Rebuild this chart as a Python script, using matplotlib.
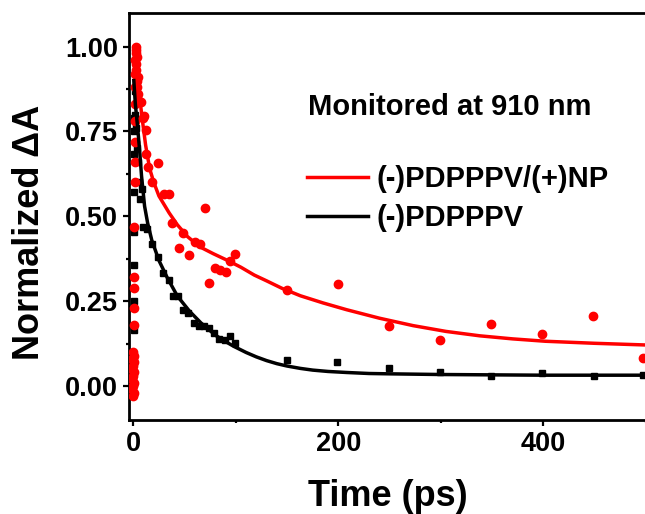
import numpy as np
import matplotlib
matplotlib.use('Agg')
from matplotlib import pyplot as plt
from matplotlib.ticker import MultipleLocator

plt.rcParams['font.family'] = ['Liberation Sans', 'DejaVu Sans']
plt.rcParams['font.weight'] = 'bold'

# (-)PDPPPV/(+)NP : measured points (red circles)
red_t = [-1.5, -1.2, -1.0, -0.8, -0.6, -0.4, -0.2, 0.0, 0.1, 0.2, 0.3, 0.4, 0.5, 0.6,
         0.7, 0.8, 0.9, 1.0, 1.1, 1.2, 1.3, 1.4, 1.5, 1.6, 1.7,
         1.8, 2.0, 2.2, 2.4, 2.6, 2.8, 3.0, 3.3, 3.6, 4.0, 4.5, 5.0, 6.0,
         7.3, 9.0, 10.9, 12.0, 12.5, 14.0, 18.7, 24.5, 30.0, 35.0,
         38.0, 44.5, 48.8, 54.0, 60.0, 64.6, 69.8, 73.7, 80.0, 85.0, 90.0, 94.8, 99.6,
         150, 199.4, 249.3, 299, 349, 399, 448.8, 497.4]
red_y = [0.05, 0.02, -0.01, 0.08, 0.03, -0.03, 0.06, 0.10, 0.00, 0.04, -0.02, 0.09, 0.07, 0.01,
         0.18, 0.23, 0.29, 0.32, 0.47, 0.60, 0.66, 0.72, 0.78, 0.83, 0.88,
         0.92, 0.96, 0.99, 1.00, 0.98, 0.95, 0.93, 0.90, 0.97, 0.88, 0.91, 0.86, 0.84,
         0.836, 0.79, 0.797, 0.753, 0.685, 0.645, 0.60, 0.657, 0.567, 0.567,
         0.481, 0.406, 0.452, 0.386, 0.423, 0.418, 0.526, 0.303, 0.347, 0.342, 0.337, 0.367, 0.389,
         0.284, 0.300, 0.178, 0.137, 0.183, 0.154, 0.205, 0.083]

# (-)PDPPPV : measured points (black squares)
blk_t = [-1.0, -0.5, 0.0, 0.3, 0.5, 0.6, 0.7, 0.8, 0.9, 1.0, 1.1, 1.2, 1.4,
         2.0, 3.0, 4.0, 5.0, 6.0, 7.0, 8.0, 9.0,
         13.8, 18.6, 24.1, 29.3, 34.8, 39.0, 43.9, 48.8, 53.6, 59.1, 64.0, 68.8, 73.7,
         79.2, 84.0, 89.0, 94.0, 99.0,
         150, 199, 249, 299, 349, 399, 449, 497]
blk_y = [0.00, 0.01, 0.02, 0.166, 0.25, 0.357, 0.455, 0.572, 0.685, 0.75, 0.79, 0.87, 0.80,
         0.78, 0.76, 0.70, 0.66, 0.60, 0.55, 0.58, 0.47,
         0.462, 0.418, 0.380, 0.333, 0.311, 0.264, 0.264, 0.225, 0.215, 0.186, 0.178, 0.178, 0.172,
         0.157, 0.139, 0.137, 0.147, 0.127,
         0.076, 0.070, 0.054, 0.041, 0.029, 0.039, 0.029, 0.034]

# fitted decay curves
red_fit_t = [1, 3, 5, 7, 9, 12, 16, 20, 25, 29, 35, 43, 53, 65, 78, 92, 105, 118, 130, 145,
             163, 185, 208, 240, 273, 305, 338, 370, 402, 450, 500]
red_fit_y = [1.0, 0.95, 0.89, 0.83, 0.78, 0.71, 0.64, 0.60, 0.56, 0.54, 0.51, 0.475, 0.44,
             0.41, 0.39, 0.37, 0.35, 0.327, 0.31, 0.288, 0.266, 0.245, 0.225, 0.20, 0.178, 0.161,
             0.148, 0.139, 0.132, 0.126, 0.121]
blk_fit_t = [0.5, 2, 4, 6, 8, 11, 14, 18, 25, 33, 43, 55, 66, 80, 90, 98, 110, 120, 130, 140,
             150, 163, 175, 190, 208, 230, 250, 275, 300, 350, 400, 450, 500]
blk_fit_y = [0.90, 0.83, 0.77, 0.70, 0.62, 0.53, 0.48, 0.43, 0.37, 0.32, 0.265, 0.22, 0.186,
             0.15, 0.131, 0.117, 0.099, 0.086, 0.075, 0.066, 0.059, 0.052, 0.047, 0.043, 0.040,
             0.037, 0.036, 0.035, 0.034, 0.033, 0.032, 0.032, 0.032]

W, H = 645, 514
fig = plt.figure(figsize=(W / 100, H / 100), dpi=100)
ax = fig.add_axes([129 / W, (H - 420) / H, 522 / W, 407.3 / H])

ax.plot(blk_t, blk_y, 's', color='black', ms=5, mec='black', zorder=2)
ax.plot(red_t, red_y, 'o', color='red', ms=6, mec='red', zorder=3)
l1, = ax.plot(red_fit_t, red_fit_y, '-', color='red', lw=2.5, zorder=4)
l2, = ax.plot(blk_fit_t, blk_fit_y, '-', color='black', lw=2.5, zorder=5)

ax.set_xlim(-4.2, 505)
ax.set_ylim(-0.1, 1.1)
ax.xaxis.set_major_locator(MultipleLocator(200))
ax.xaxis.set_minor_locator(MultipleLocator(100))
ax.yaxis.set_major_locator(MultipleLocator(0.25))
ax.yaxis.set_minor_locator(MultipleLocator(0.125))
ax.yaxis.set_major_formatter(matplotlib.ticker.FormatStrFormatter('%.2f'))
for s in ax.spines.values():
    s.set_linewidth(2)
ax.tick_params(which='major', direction='out', length=4.2, width=1.6, labelsize=19.5, pad=3.5)
ax.tick_params(which='minor', direction='out', length=2.5, width=1.6)
for lab in ax.get_xticklabels() + ax.get_yticklabels():
    lab.set_fontweight('bold')

fig.text(388 / W, 1 - 497 / H, 'Time (ps)', fontsize=26, fontweight='bold', ha='center', va='center')
fig.text(30 / W, 1 - 232 / H, 'Normalized \u0394A', fontsize=26, fontweight='bold',
         ha='center', va='center', rotation=90)
fig.text(308 / W, 1 - 107 / H, 'Monitored at 910 nm', fontsize=21, fontweight='bold', va='center')

leg = ax.legend([l1, l2], ['(-)PDPPPV/(+)NP', '(-)PDPPPV'], loc='upper left',
                bbox_to_anchor=(307 / W, 1 - 165 / H), bbox_transform=fig.transFigure,
                frameon=False, borderpad=0, borderaxespad=0, handlelength=2.1,
                handletextpad=0.3, labelspacing=0.37, prop={'size': 21, 'weight': 'bold'})

fig.savefig('out.png', dpi=100)
